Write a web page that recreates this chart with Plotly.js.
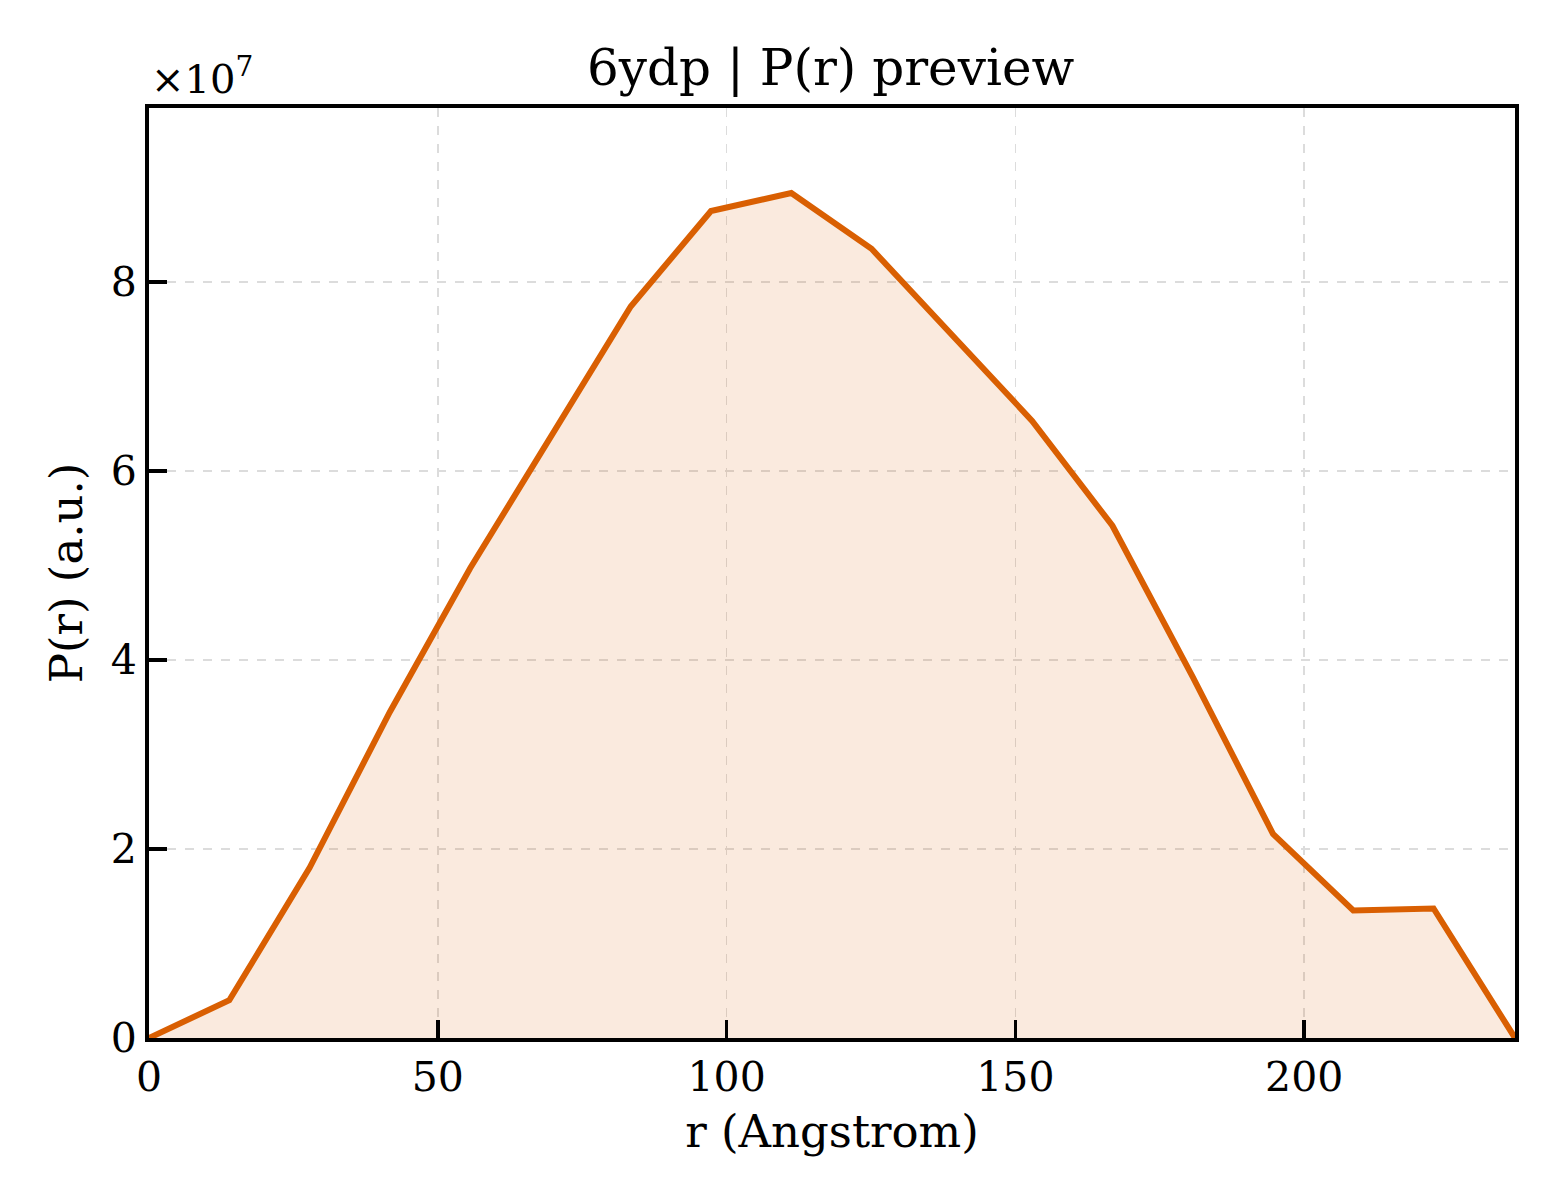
<!DOCTYPE html>
<html>
<head>
<meta charset="utf-8">
<script src="https://cdn.plot.ly/plotly-3.0.1.min.js"></script>
<style>
  html, body { margin: 0; padding: 0; background: #fff; }
  #chart { width: 1560px; height: 1200px; }
</style>
</head>
<body>
<div id="chart"></div>
<script>
// distance r in Angstrom
const r = [0, 13.9, 27.8, 41.7, 55.6, 69.5, 83.4, 97.3, 111.2, 125.1, 139.0, 152.9, 166.8, 180.7, 194.6, 208.5, 222.4, 236.5];
// P(r), arbitrary units
const pr = [0, 4.0e6, 1.80e7, 3.45e7, 4.97e7, 6.36e7, 7.74e7, 8.75e7, 8.94e7, 8.35e7, 7.43e7, 6.53e7, 5.42e7, 3.82e7, 2.16e7, 1.35e7, 1.37e7, 0];

const xTicks = [0, 50, 100, 150, 200];
const yTicks = [0, 2e7, 4e7, 6e7, 8e7];
const yTickText = ["0", "2", "4", "6", "8"];

const font = "DejaVu Serif, serif";

const trace = {
    x: r,
    y: pr,
    mode: "lines",
    line: { color: "#d95f02", width: 6 },
    fill: "tozeroy",
    fillcolor: "rgba(217,95,2,0.13)",
    hoverinfo: "skip",
};

const axisCommon = {
    showline: true,
    linecolor: "#000",
    linewidth: 4,
    mirror: true,
    ticks: "inside",
    ticklen: 18,
    tickwidth: 3.5,
    tickcolor: "#000",
    showgrid: true,
    gridcolor: "#dcdcdc",
    gridwidth: 1.5,
    griddash: "dash",
    zeroline: false,
    tickfont: { family: font, size: 41, color: "#000" },
};

const layout = {
    width: 1560,
    height: 1200,
    margin: { l: 149, r: 45, t: 108, b: 162 },
    paper_bgcolor: "#fff",
    plot_bgcolor: "#fff",
    showlegend: false,
    font: { family: font, color: "#000" },
    title: {
        text: "6ydp | P(r) preview",
        font: { family: font, size: 50, color: "#000" },
        x: 0.5325,
        xanchor: "center",
        y: 0.944,
        yanchor: "middle",
    },
    xaxis: Object.assign({}, axisCommon, {
        range: [0, 236.5],
        tickvals: xTicks,
        title: { text: "r (Angstrom)", font: { family: font, size: 45, color: "#000" }, standoff: 16 },
    }),
    yaxis: Object.assign({}, axisCommon, {
        range: [0, 9.84e7],
        tickvals: yTicks,
        ticktext: yTickText,
        title: { text: "P(r) (a.u.)", font: { family: font, size: 45, color: "#000" }, standoff: 15 },
    }),
    annotations: [
        {
            text: "×10<sup>7</sup>",
            xref: "paper",
            yref: "paper",
            x: 0,
            y: 1,
            xanchor: "left",
            yanchor: "bottom",
            yshift: 4,
            showarrow: false,
            font: { family: font, size: 40, color: "#000" },
        },
    ],
};

Plotly.newPlot("chart", [trace], layout, { staticPlot: true, displayModeBar: false });
</script>
</body>
</html>
